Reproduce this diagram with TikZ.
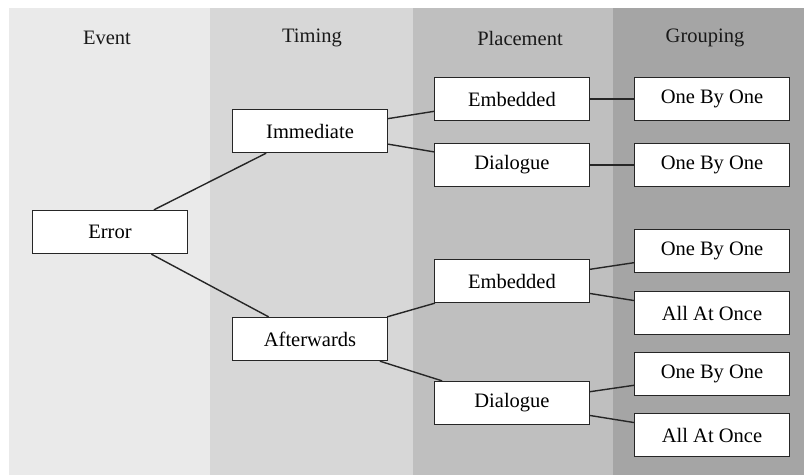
\documentclass[tikz,border=0pt]{standalone}
\usepackage{fontspec}
\setmainfont{Liberation Serif}
\begin{document}
\begin{tikzpicture}[x=1pt,y=-1pt,
  stagebox/.style={draw=black!85, fill=white, line width=1.3pt, minimum width=155pt, minimum height=43pt, inner sep=0pt, font=\fontsize{20.5}{24}\selectfont},
  header/.style={font=\fontsize{20.5}{24}\selectfont, text=black!90},
  link/.style={draw=black!85, line width=1.4pt}]
\useasboundingbox (0,0) rectangle (804,475);
\fill[white] (0,0) rectangle (804,475);
\fill[fill={rgb,255:red,234;green,234;blue,234}] (9,8) rectangle (210,475);
\fill[fill={rgb,255:red,215;green,215;blue,215}] (210,8) rectangle (413,475);
\fill[fill={rgb,255:red,191;green,191;blue,191}] (413,8) rectangle (613,475);
\fill[fill={rgb,255:red,165;green,165;blue,165}] (613,8) rectangle (804,475);
\node[header] (hE) at (107,38) {Event};
\node[header] (hT) at (312,38) {Timing};
\node[header] (hP) at (520,38) {Placement};
\node[header] (hG) at (705,38) {Grouping};
\node[stagebox] (err) at (110,232) {Error};
\node[stagebox] (imm) at (310,131) {Immediate};
\node[stagebox] (aft) at (310,339) {Afterwards};
\node[stagebox] (emb1) at (512,99) {Embedded};
\node[stagebox] (dia1) at (512,165) {Dialogue};
\node[stagebox] (emb2) at (512,281) {Embedded};
\node[stagebox] (dia2) at (512,403) {Dialogue};
\node[stagebox] (g1) at (712,99) {One By One};
\node[stagebox] (g2) at (712,165) {One By One};
\node[stagebox] (g3) at (712,251) {One By One};
\node[stagebox] (g4) at (712,313) {All At Once};
\node[stagebox] (g5) at (712,374) {One By One};
\node[stagebox] (g6) at (712,435) {All At Once};
\draw[link] (err) -- (imm);
\draw[link] (err) -- (aft);
\draw[link] (imm) -- (emb1);
\draw[link] (imm) -- (dia1);
\draw[link] (aft) -- (emb2);
\draw[link] (aft) -- (dia2);
\draw[link] (emb1) -- (g1);
\draw[link] (dia1) -- (g2);
\draw[link] (emb2) -- (g3);
\draw[link] (emb2) -- (g4);
\draw[link] (dia2) -- (g5);
\draw[link] (dia2) -- (g6);
\end{tikzpicture}
\end{document}
